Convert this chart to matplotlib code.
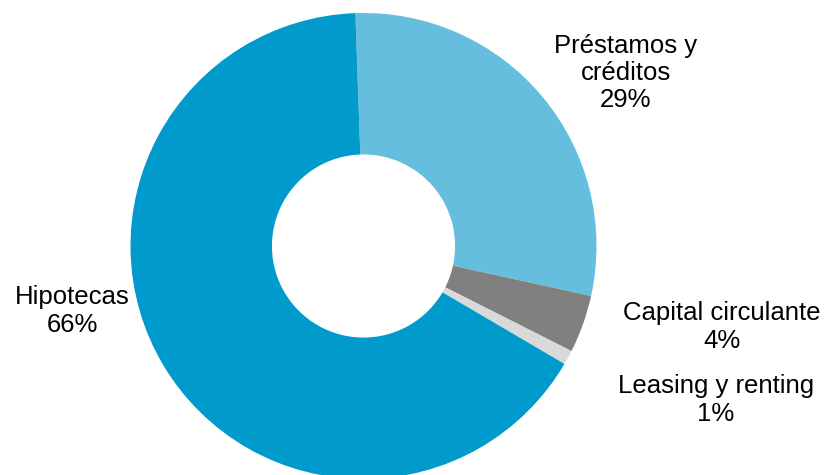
import matplotlib
matplotlib.use("Agg")
import matplotlib.pyplot as plt

categories = ["Préstamos y\ncréditos", "Capital circulante", "Leasing y renting", "Hipotecas"]
shares = [29, 4, 1, 66]
colors = ["#65BEDD", "#808080", "#D9D9D9", "#009ACC"]

plt.rcParams["font.family"] = ["Liberation Sans", "DejaVu Sans"]

W, H = 829, 475
fig = plt.figure(figsize=(W / 100, H / 100), dpi=100)
ax = fig.add_axes([0, 0, 1, 1])

cx, cy, r = 363.5, H - 246, 233
ax.pie(shares, colors=colors, startangle=92, counterclock=False,
       center=(cx, cy), radius=r, frame=True,
       wedgeprops=dict(width=r * 0.607, linewidth=0))
ax.set_xlim(0, W)
ax.set_ylim(0, H)
ax.set_aspect("equal")
ax.axis("off")

label_pos = [(626, H - 73), (722, H - 327), (716, H - 400), (72, H - 311)]
for name, val, (x, y) in zip(categories, shares, label_pos):
    ax.text(x, y, f"{name}\n{val}%", ha="center", va="center",
            fontsize=18.5, linespacing=1.16, color="black")

fig.savefig("out.png", dpi=100)
